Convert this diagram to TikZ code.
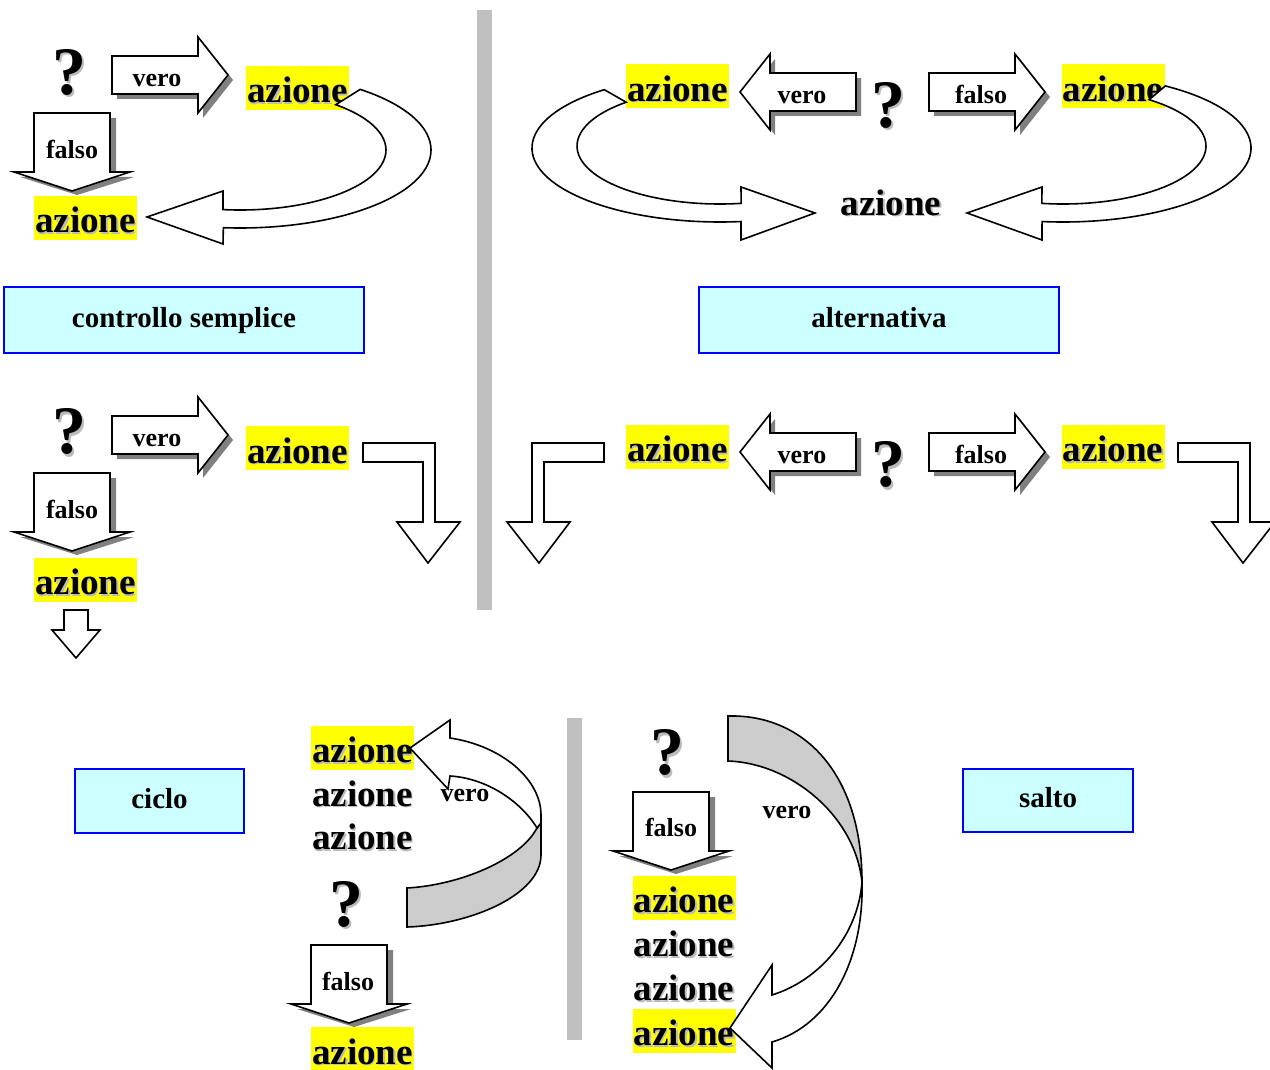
\documentclass[tikz,border=0pt]{standalone}
\usepackage{fontspec}
\setmainfont{Liberation Serif}
\definecolor{hlyellow}{HTML}{FFFF00}
\definecolor{titlefill}{HTML}{CCFFFF}
\definecolor{titleline}{HTML}{0000FF}
\definecolor{bargray}{HTML}{C0C0C0}
\definecolor{dropgray}{HTML}{808080}
\definecolor{txtshade}{HTML}{BBBBBB}
\definecolor{sidegray}{HTML}{CCCCCC}
% text with a soft grey drop shadow
\newcommand\shtxt[2][1.5pt]{\leavevmode\rlap{\kern#1\raisebox{-#1}{\textcolor{txtshade}{#2}}}#2}

\tikzset{
  % block arrow pointing right, origin at the middle of the tail
  rblock/.pic={
    \fill[drop] (5,-14) -- (91,-14) -- (91,-33) -- (121,5) -- (91,43) -- (91,24) -- (5,24) -- cycle;
    \draw[blk] (0,-19) -- (86,-19) -- (86,-38) -- (116,0) -- (86,38) -- (86,19) -- (0,19) -- cycle;
  },
  % block arrow pointing left, origin at the middle of the tail
  lblock/.pic={
    \fill[drop] (5,-14) -- (-81,-14) -- (-81,-33) -- (-111,5) -- (-81,43) -- (-81,24) -- (5,24) -- cycle;
    \draw[blk] (0,-19) -- (-86,-19) -- (-86,-38) -- (-116,0) -- (-86,38) -- (-86,19) -- (0,19) -- cycle;
  },
  % block arrow pointing down, origin at the middle of the top edge
  dblock/.pic={
    \fill[drop] (-32,5) -- (44,5) -- (44,64) -- (62,64) -- (5,82) -- (-52,64) -- (-32,64) -- cycle;
    \draw[blk] (-38,0) -- (38,0) -- (38,59) -- (58,59) -- (0,78) -- (-58,59) -- (-38,59) -- cycle;
  },
  % bent arrow: across, then down
  elbow/.pic={
    \draw[blk] (0,0) -- (72,0) -- (72,79) -- (97,79) -- (65,120) -- (34,79) -- (60,79) -- (60,19) -- (0,19) -- cycle;
  },
}

\begin{document}
\begin{tikzpicture}[x=1pt,y=-1pt,
  blk/.style={draw=black,fill=white,line width=1.6pt,line join=miter},
  drop/.style={fill=dropgray},
  ribside/.style={draw=black,fill=sidegray,line width=1.6pt,line join=miter},
  act/.style={font=\fontsize{37}{40}\selectfont\bfseries,inner sep=0pt,minimum width=103pt,minimum height=44pt,text height=30pt,text depth=0pt},
  acthl/.style={act,fill=hlyellow},
  quest/.style={font=\fontsize{68}{70}\selectfont\bfseries,inner sep=0pt,text height=47pt,text depth=0pt},
  lbl/.style={font=\fontsize{26}{28}\selectfont\bfseries,inner sep=0pt,text height=18pt,text depth=0pt},
  title/.style={draw=titleline,line width=2pt,fill=titlefill,font=\fontsize{29}{32}\selectfont\bfseries,inner sep=0pt,text height=20pt,text depth=6pt},
  divider/.style={fill=bargray},
]
\useasboundingbox[fill=white] (0,0) rectangle (1270,1070);

% dividers
\fill[divider] (477,10) rectangle (492,610);
\fill[divider] (567,718) rectangle (582,1040);

% section titles
\node[title,minimum width=360pt,minimum height=66pt] (tsimple) at (184,320) {controllo semplice};
\node[title,minimum width=360pt,minimum height=66pt] (talt) at (879,320) {alternativa};
\node[title,minimum width=169pt,minimum height=64pt] (tciclo) at (159.5,801) {ciclo};
\node[title,minimum width=170pt,minimum height=63pt] (tsalto) at (1048,800.5) {salto};

% ---------- controllo semplice ----------
\node[acthl] (s1a) at (297.5,88) {\shtxt{azione}};
\node[acthl] (s1b) at (85.5,218) {\shtxt{azione}};
\pic at (112,75) {rblock};
\pic at (72,113) {dblock};
\draw[blk] ([shift={(240,150)}]-51:191 and 78) arc[start angle=-51,end angle=95,x radius=191,y radius=78]
  -- (223,244) -- (147,217) -- (223,191)
  -- ([shift={(240,150)}]96.7:146 and 60) arc[start angle=96.7,end angle=-49,x radius=146,y radius=60] -- cycle;
\node[quest] (s1q) at (69,71) {\shtxt[2.5pt]{?}};
\node[lbl] (s1v) at (157,77.7) {vero};
\node[lbl] (s1f) at (72,149.3) {falso};

% ---------- alternativa ----------
\node[acthl] (a1l) at (677.5,86.5) {\shtxt{azione}};
\node[acthl] (a1r) at (1113,86.5) {\shtxt{azione}};
\node[act] (a1m) at (891,200) {\shtxt{azione}};
\pic at (856,92) {lblock};
\pic at (929,92) {rblock};
\draw[blk] ([shift={(720,148)}]232:188 and 74) arc[start angle=232,end angle=83.6,x radius=188,y radius=74]
  -- (741,240) -- (815,213) -- (741,187)
  -- ([shift={(720,146)}]81.5:143 and 58) arc[start angle=81.5,end angle=229,x radius=143,y radius=58] -- cycle;
\draw[blk] ([shift={(1063,148)}]-57:188 and 74) arc[start angle=-57,end angle=96.4,x radius=188,y radius=74]
  -- (1042,240) -- (967,213) -- (1042,187)
  -- ([shift={(1063,146)}]98.5:143 and 58) arc[start angle=98.5,end angle=-53,x radius=143,y radius=58] -- cycle;
\node[quest] (a1q) at (888,103.8) {\shtxt[2.5pt]{?}};
\node[lbl] (a1v) at (802,94.3) {vero};
\node[lbl] (a1f) at (981,94.3) {falso};

% ---------- controllo semplice, uscita ----------
\node[acthl] (s2a) at (297.5,448) {\shtxt{azione}};
\node[acthl] (s2b) at (85.5,579.5) {\shtxt{azione}};
\pic at (112,435) {rblock};
\pic at (72,473) {dblock};
\pic at (363,443) {elbow};
\draw[blk] (64,610) -- (88,610) -- (88,630) -- (100,630) -- (76,658) -- (52,630) -- (64,630) -- cycle;
\node[quest] (s2q) at (69,430) {\shtxt[2.5pt]{?}};
\node[lbl] (s2v) at (157,437.7) {vero};
\node[lbl] (s2f) at (72,509.3) {falso};

% ---------- alternativa, uscita ----------
\node[acthl] (a2l) at (677.5,446.5) {\shtxt{azione}};
\node[acthl] (a2r) at (1113,446.5) {\shtxt{azione}};
\pic at (856,452) {lblock};
\pic at (929,452) {rblock};
\pic[xscale=-1] at (604,443) {elbow};
\pic at (1178,443) {elbow};
\node[quest] (a2q) at (888,463) {\shtxt[2.5pt]{?}};
\node[lbl] (a2v) at (802,454.3) {vero};
\node[lbl] (a2f) at (981,454.3) {falso};

% ---------- ciclo ----------
\node[acthl] (c1) at (362.5,747.5) {\shtxt{azione}};
\node[act] (c2) at (362.5,791) {\shtxt{azione}};
\node[act] (c3) at (362.5,834.5) {\shtxt{azione}};
\node[acthl] (c4) at (362.5,1049) {\shtxt{azione}};
\pic at (349,945) {dblock};
% ribbon arrow looping back up: grey underside, then white face with head
\draw[ribside] (407,888) .. controls (460,885) and (520,860) .. (537,828) -- (541,823) -- (541,855)
  .. controls (541,895) and (470,925) .. (407,927) -- cycle;
\draw[blk] (450,738) .. controls (503,746) and (541,780) .. (541,815) -- (541,823) -- (537,828)
  .. controls (520,800) and (485,778) .. (450,776) -- (448,789) -- (410,748) -- (450,720) -- cycle;
\node[quest] (cq) at (346,902.5) {\shtxt[2.5pt]{?}};
\node[lbl] (cf) at (348,981) {falso};
\node[lbl] (cv) at (465,792.7) {vero};

% ---------- salto ----------
\node[acthl] (j1) at (684,897.5) {\shtxt{azione}};
\node[act] (j2) at (684,941.5) {\shtxt{azione}};
\node[act] (j3) at (684,985.5) {\shtxt{azione}};
\node[acthl] (j4) at (684,1030.5) {\shtxt{azione}};
\pic at (671,792) {dblock};
% ribbon arrow jumping down: grey underside, then white face with head
\draw[ribside] (728,716) .. controls (805,714) and (862,775) .. (862,882)
  .. controls (855,815) and (790,763) .. (728,761) -- cycle;
\draw[blk] (862,882) .. controls (864,960) and (830,1025) .. (772,1042) -- (772,1068) -- (730,1028) -- (772,965) -- (772,995)
  .. controls (820,980) and (858,935) .. (862,882) -- cycle;
\node[quest] (jq) at (667,751) {\shtxt[2.5pt]{?}};
\node[lbl] (jf) at (671,827.7) {falso};
\node[lbl] (jv) at (787,809.3) {vero};

\end{tikzpicture}
\end{document}
